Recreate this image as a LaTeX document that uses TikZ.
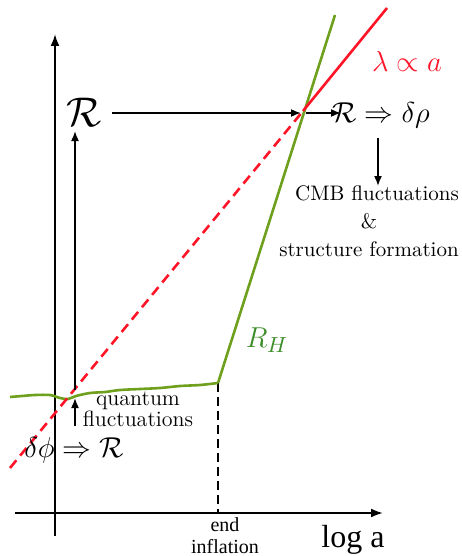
\documentclass[tikz,border=0pt]{standalone}
\usepackage{fontspec}
\usepackage{amsmath,amssymb}
\newfontfamily\timesfont{Liberation Serif}
\usetikzlibrary{arrows.meta}
\definecolor{lgreen}{RGB}{110,160,30}
\definecolor{dgreen}{RGB}{60,140,40}
\definecolor{myred}{RGB}{255,20,40}
\tikzset{
  axis/.style={line width=1pt,-{Latex[length=6pt,width=4.5pt]}},
  arr/.style={line width=0.8pt,-{Latex[length=5pt,width=4pt]}},
  greenline/.style={lgreen,line width=1.3pt},
  redline/.style={myred,line width=1.3pt},
  bigmath/.style={font=\fontsize{15}{18}\selectfont},
  lbl/.style={align=center,inner sep=0pt}
}
\begin{document}
\begin{tikzpicture}[x=0.5pt,y=-0.5pt]
\useasboundingbox (0,0) rectangle (461,556);
% axes
\coordinate (yb) at (55,536);
\coordinate (yt) at (55,34);
\coordinate (xl) at (15,513);
\coordinate (xr) at (383,513);
\draw[axis] (yb) -- (yt);
\draw[axis] (xl) -- (xr);
% end of inflation
\coordinate (E) at (218,383);
\coordinate (Eb) at (218,513);
\draw[line width=1.4pt,dash pattern=on 4.5pt off 2.5pt] (E) -- (Eb);
% green curve
\draw[greenline] plot[smooth] coordinates {(10,397) (22,396) (35,395) (50,395) (60,398) (68,399) (76,396) (90,393) (105,392) (120,390) (140,389) (160,388) (180,386) (200,385) (218,383)};
\coordinate (Gt) at (335,15);
\draw[greenline] (E) -- (Gt);
% red line
\coordinate (Rs) at (10,468);
\coordinate (P) at (303,111);
\coordinate (Re) at (387,8);
\draw[redline,dash pattern=on 5pt off 3pt] (Rs) -- (P);
\draw[redline] (P) -- (Re);
% labels
\node[myred,font=\fontsize{14.4}{17}\selectfont] (lam) at (407,62) {$\lambda \propto a$};
\node[dgreen,font=\fontsize{15}{18}\selectfont] (RH) at (267,340) {$R_H$};
\node[font=\fontsize{20}{24}\selectfont] (Rl) at (84,112) {$\mathcal{R}$};
\node[bigmath] (Rr) at (381,115) {$\mathcal{R} \Rightarrow \delta\rho$};
\node[bigmath] (dp) at (74,450) {$\delta\phi \Rightarrow \mathcal{R}$};
\node[lbl,font=\fontsize{11}{10.5}\selectfont] (qf) at (138,409) {quantum\\fluctuations};
\node[lbl,font=\fontsize{10.5}{12}\selectfont] (cmb) at (369,221) {\hspace*{8pt}CMB fluctuations\\[2pt]\&\\[2pt]structure formation};
\node[font=\timesfont,align=center,inner sep=0pt] (endinf) at (225,536) {end\\[-1pt]inflation};
\node[font=\timesfont\fontsize{16}{18}\selectfont,inner sep=0pt] (loga) at (353,540) {log a};
% arrows
\coordinate (Q) at (75,390);
\coordinate (Rlb) at (75,131);
\draw[arr] (Q) -- (Rlb);
\coordinate (qa) at (75,426);
\coordinate (qb) at (75,398);
\draw[arr] (qa) -- (qb);
\coordinate (a1) at (112,113);
\coordinate (a2) at (301,113);
\draw[arr] (a1) -- (a2);
\coordinate (a3) at (306,113);
\coordinate (a4) at (341,113);
\draw[arr] (a3) -- (a4);
\coordinate (c1) at (378,138);
\coordinate (c2) at (378,186);
\draw[arr] (c1) -- (c2);
\end{tikzpicture}
\end{document}
